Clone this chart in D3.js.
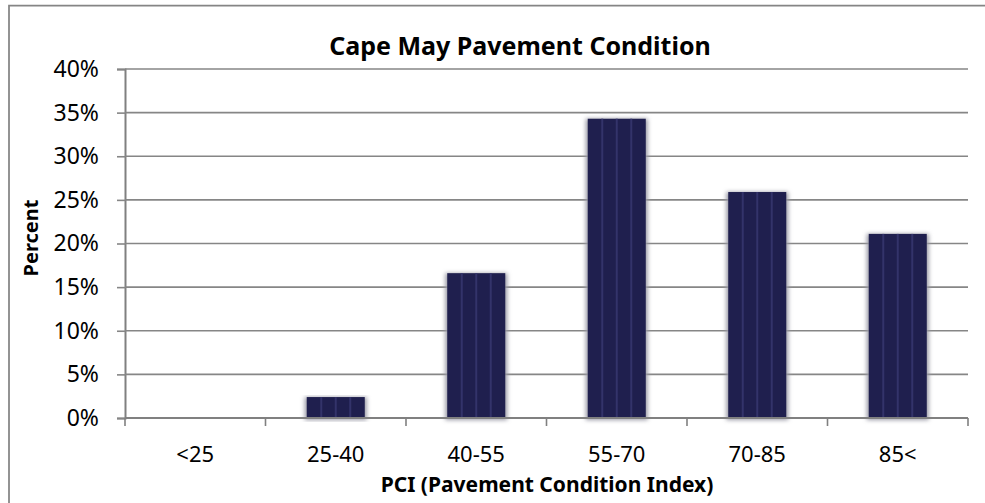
<!DOCTYPE html>
<html>
<head>
<meta charset="utf-8">
<script src="https://cdn.jsdelivr.net/npm/d3@7"></script>
<style>
  body { margin: 0; background: #fff; overflow: hidden; }
  svg { display: block; font-family: "Noto Sans", "Open Sans", sans-serif; }
</style>
</head>
<body>
<svg width="985" height="503"></svg>
<script>
var categories = ["<25", "25-40", "40-55", "55-70", "70-85", "85<"];
var percents = [0, 2.4, 16.6, 34.3, 25.9, 21.1];
var yTicks = [0, 5, 10, 15, 20, 25, 30, 35, 40];

var svg = d3.select("svg"),
    width = +svg.attr("width"),
    height = +svg.attr("height");

var margin = {top: 69, right: 17, bottom: 85, left: 125};
var plotW = width - margin.left - margin.right,
    plotH = height - margin.top - margin.bottom;

// outer frame (only top and left edges show)
svg.append("path")
  .attr("d", "M9,503 V5.5 H985")
  .attr("fill", "none")
  .attr("stroke", "#858585")
  .attr("stroke-width", 1.75);

var x = d3.scaleBand()
  .domain(categories)
  .range([margin.left, margin.left + plotW])
  .paddingInner(0.587)
  .paddingOuter(0.2935);

var xEdge = d3.scaleLinear()
  .domain([0, categories.length])
  .range([margin.left, margin.left + plotW]);

var y = d3.scaleLinear()
  .domain([0, 40])
  .range([margin.top + plotH, margin.top]);

// gridlines + y axis
var yAxis = d3.axisLeft(y)
  .tickValues(yTicks)
  .tickSize(8)
  .tickPadding(18)
  .tickFormat(function(d) { return d + "%"; });

var gy = svg.append("g")
  .attr("transform", "translate(" + margin.left + ",0)")
  .call(yAxis);
gy.select(".domain").attr("stroke", "#808080").attr("stroke-width", 2);
gy.selectAll(".tick line").attr("stroke", "#868686").attr("stroke-width", 1.6);
gy.selectAll(".tick text")
  .attr("font-size", 23)
  .attr("fill", "#000")
  .attr("font-family", "Noto Sans, sans-serif");

svg.append("g")
  .selectAll("line")
  .data(yTicks.filter(function(d) { return d > 0; }))
  .enter().append("line")
  .attr("x1", margin.left)
  .attr("x2", margin.left + plotW)
  .attr("y1", function(d) { return y(d); })
  .attr("y2", function(d) { return y(d); })
  .attr("stroke", "#868686")
  .attr("stroke-width", 1.6);

// shadow filter for bars
var defs = svg.append("defs");
var f = defs.append("filter").attr("id", "shadow")
  .attr("x", "-20%").attr("y", "-5%").attr("width", "140%").attr("height", "110%");
f.append("feGaussianBlur").attr("stdDeviation", 2.2);

var bars = svg.append("g").selectAll("g")
  .data(categories.map(function(c, i) { return {cat: c, v: percents[i]}; }))
  .enter().append("g")
  .filter(function(d) { return d.v > 0; });

bars.append("rect")
  .attr("x", function(d) { return x(d.cat) - 2; })
  .attr("y", function(d) { return y(d.v); })
  .attr("width", x.bandwidth() + 4)
  .attr("height", function(d) { return y(0) - y(d.v) + 2; })
  .attr("fill", "#9a9aa6")
  .attr("filter", "url(#shadow)");

bars.append("rect")
  .attr("x", function(d) { return x(d.cat); })
  .attr("y", function(d) { return y(d.v); })
  .attr("width", x.bandwidth())
  .attr("height", function(d) { return y(0) - y(d.v); })
  .attr("fill", "#1f1f4e");

// faint vertical stripes in bars
[0.25, 0.5, 0.75].forEach(function(p) {
  bars.append("rect")
    .attr("x", function(d) { return x(d.cat) + x.bandwidth() * p - 1; })
    .attr("y", function(d) { return y(d.v); })
    .attr("width", 2)
    .attr("height", function(d) { return y(0) - y(d.v); })
    .attr("fill", "#33336a");
});

// x axis
var xAxisY = y(0);
svg.append("line")
  .attr("x1", margin.left).attr("x2", margin.left + plotW)
  .attr("y1", xAxisY).attr("y2", xAxisY)
  .attr("stroke", "#808080").attr("stroke-width", 2);

svg.append("g").selectAll("line")
  .data(d3.range(categories.length + 1))
  .enter().append("line")
  .attr("x1", function(i) { return xEdge(i); })
  .attr("x2", function(i) { return xEdge(i); })
  .attr("y1", xAxisY)
  .attr("y2", xAxisY + 8)
  .attr("stroke", "#808080").attr("stroke-width", 1.6);

svg.append("g").selectAll("text")
  .data(categories)
  .enter().append("text")
  .attr("x", function(d) { return x(d) + x.bandwidth() / 2; })
  .attr("y", 462)
  .attr("text-anchor", "middle")
  .attr("font-size", 22)
  .text(function(d) { return d; });

// titles
svg.append("text")
  .attr("x", 520).attr("y", 55)
  .attr("text-anchor", "middle")
  .attr("font-size", 25)
  .attr("font-weight", "bold")
  .text("Cape May Pavement Condition");

svg.append("text")
  .attr("x", 547).attr("y", 492)
  .attr("text-anchor", "middle")
  .attr("font-size", 21)
  .attr("font-weight", "bold")
  .text("PCI (Pavement Condition Index)");

svg.append("text")
  .attr("transform", "translate(38,238) rotate(-90)")
  .attr("text-anchor", "middle")
  .attr("font-size", 20)
  .attr("font-weight", "bold")
  .text("Percent");
</script>
</body>
</html>
